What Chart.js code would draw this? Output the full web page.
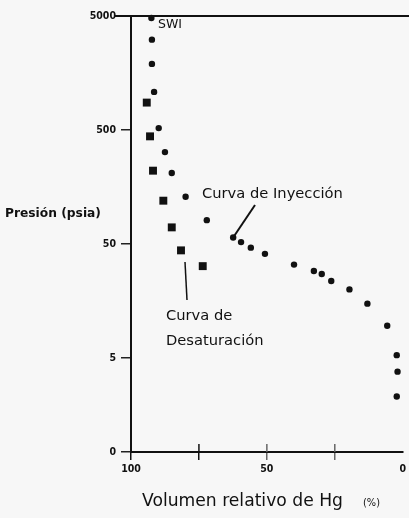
<!DOCTYPE html>
<html>
<head>
<meta charset="utf-8">
<script src="https://cdn.jsdelivr.net/npm/chart.js@4.4.1/dist/chart.umd.min.js"></script>
<style>
  html, body { margin: 0; padding: 0; background: #f7f7f7; }
  #wrap { width: 409px; height: 518px; }
</style>
</head>
<body>
<div id="wrap"><canvas id="c" width="409" height="518"></canvas></div>
<script>
// Curva de inyección de mercurio (volumen relativo %, presión psia)
const injX = [92.5, 92.3, 92.3, 91.5, 89.8, 87.5, 85.0, 79.9, 72.1, 62.4, 59.5, 55.9, 50.7, 40.0, 32.7, 29.8, 26.3, 19.6, 13.0, 5.7, 2.2, 1.9, 2.2];
const injY = [4800, 3100, 1900, 1080, 520, 320, 210, 130, 81, 57, 52, 46.5, 41, 33, 29, 27.3, 23.7, 20, 15, 9.6, 5.3, 3.8, 2.3];

// Curva de desaturación
const desX = [94.2, 93.0, 91.9, 88.1, 85.0, 81.6, 73.6];
const desY = [870, 440, 220, 120, 70, 44, 32];

// Ejes
const xTickValues = [100, 75, 50, 25, 0];
const xTickLabels = ['100', '', '50', '', '0'];
const yAxisMin = 0.75;
const yAxisMax = 5000;
const yTickValues = [yAxisMin, 5, 50, 500, 5000];
const yTickLabels = ['0', '5', '50', '500', '5000'];

const INK = '#111';
const SANS = '"DejaVu Sans", "Open Sans", sans-serif';
const TICKFONT = '"DejaVu Sans Condensed", "Liberation Sans Narrow", "DejaVu Sans", sans-serif';

function toPoints(xs, ys) {
  return xs.map((x, i) => ({ x: x, y: ys[i] }));
}

// Font size that makes a text span a given width
function fitSize(ctx, text, width, weight, family) {
  ctx.font = weight + ' 100px ' + family;
  return 100 * width / ctx.measureText(text).width;
}

function drawText(ctx, text, x, y, size, weight, family) {
  ctx.font = weight + ' ' + size.toFixed(2) + 'px ' + family;
  ctx.fillText(text, x, y);
}

function fitText(ctx, text, x, y, width, weight, family) {
  drawText(ctx, text, x, y, fitSize(ctx, text, width, weight, family), weight, family);
}

const decorations = {
  id: 'decorations',
  afterDraw(chart) {
    const ctx = chart.ctx;
    const xs = chart.scales.x;
    const ys = chart.scales.y;
    const area = chart.chartArea;
    ctx.save();

    // top frame line at 5000
    ctx.strokeStyle = INK;
    ctx.lineWidth = 2;
    ctx.beginPath();
    ctx.moveTo(115, area.top);
    ctx.lineTo(chart.width, area.top);
    ctx.stroke();

    // inner halves of the x tick marks
    ctx.lineWidth = 1.5;
    [[75, INK], [50, '#666'], [25, '#666']].forEach(([v, col]) => {
      const px = xs.getPixelForValue(v);
      ctx.strokeStyle = col;
      ctx.beginPath();
      ctx.moveTo(px, area.bottom);
      ctx.lineTo(px, area.bottom - 8);
      ctx.stroke();
    });

    ctx.fillStyle = INK;
    ctx.textBaseline = 'alphabetic';
    ctx.textAlign = 'left';

    // axis titles
    fitText(ctx, 'Presión (psia)', 5, 217, 96, 'bold', SANS);
    fitText(ctx, 'Volumen relativo de Hg', 142, 506, 201, 'normal', SANS);
    fitText(ctx, '(%)', 363, 506, 17, 'normal', SANS);

    // curve labels
    fitText(ctx, 'SWI', 158, 28, 24, 'normal', SANS);
    const labelSize = fitSize(ctx, 'Curva de Inyección', 141, 'normal', SANS);
    drawText(ctx, 'Curva de Inyección', 202, 198, labelSize, 'normal', SANS);
    drawText(ctx, 'Curva de', 166, 320, labelSize, 'normal', SANS);
    drawText(ctx, 'Desaturación', 166, 345, labelSize, 'normal', SANS);

    // pointer lines
    ctx.strokeStyle = INK;
    ctx.lineWidth = 2;
    const p0x = xs.getPixelForValue(injX[9]);
    const p0y = ys.getPixelForValue(injY[9]);
    ctx.beginPath();
    ctx.moveTo(p0x, p0y);
    ctx.lineTo(255, 205);
    ctx.stroke();

    ctx.lineWidth = 1.5;
    ctx.beginPath();
    ctx.moveTo(185, 262);
    ctx.lineTo(187, 300);
    ctx.stroke();

    ctx.restore();
  }
};

const bg = {
  id: 'bg',
  beforeDraw(chart) {
    const ctx = chart.ctx;
    ctx.save();
    ctx.fillStyle = '#f7f7f7';
    ctx.fillRect(0, 0, chart.width, chart.height);
    ctx.restore();
  }
};

new Chart(document.getElementById('c'), {
  type: 'scatter',
  data: {
    datasets: [
      {
        label: 'Curva de Inyección',
        data: toPoints(injX, injY),
        pointStyle: 'circle',
        pointRadius: 3.2,
        pointBackgroundColor: INK,
        pointBorderWidth: 0,
        clip: false
      },
      {
        label: 'Curva de Desaturación',
        data: toPoints(desX, desY),
        pointStyle: 'rect',
        pointRadius: 5.6,
        pointBackgroundColor: INK,
        pointBorderWidth: 0,
        clip: false
      }
    ]
  },
  options: {
    responsive: false,
    animation: false,
    layout: { padding: { left: 0, right: 3, top: 16, bottom: 0 } },
    plugins: {
      legend: { display: false },
      tooltip: { enabled: false }
    },
    scales: {
      x: {
        type: 'linear',
        reverse: true,
        min: 0,
        max: 100,
        afterBuildTicks(scale) {
          scale.ticks = xTickValues.map(v => ({ value: v }));
        },
        afterFit(scale) { scale.height = 66; },
        border: { display: true, color: INK, width: 2 },
        grid: {
          drawOnChartArea: false,
          drawTicks: true,
          tickLength: 8,
          lineWidth: 1.5,
          color: ctx => {
            const v = ctx.tick ? ctx.tick.value : null;
            if (v === 0) return 'rgba(0,0,0,0)';
            if (v === 50 || v === 25) return '#666';
            return INK;
          }
        },
        ticks: {
          padding: 3,
          color: INK,
          maxRotation: 0,
          autoSkip: false,
          font: { family: TICKFONT, size: 10.5, weight: 'bold' },
          callback: (value, index) => xTickLabels[index]
        }
      },
      y: {
        type: 'logarithmic',
        min: yAxisMin,
        max: yAxisMax,
        afterBuildTicks(scale) {
          scale.ticks = yTickValues.map(v => ({ value: v }));
        },
        afterFit(scale) { scale.width = 131; },
        border: { display: true, color: INK, width: 2 },
        grid: {
          drawOnChartArea: false,
          drawTicks: true,
          tickLength: 10,
          lineWidth: 1.5,
          color: '#222'
        },
        ticks: {
          padding: 5,
          color: INK,
          autoSkip: false,
          font: { family: TICKFONT, size: 10.5, weight: 'bold' },
          callback: (value, index) => yTickLabels[index]
        }
      }
    }
  },
  plugins: [bg, decorations]
});
</script>
</body>
</html>
